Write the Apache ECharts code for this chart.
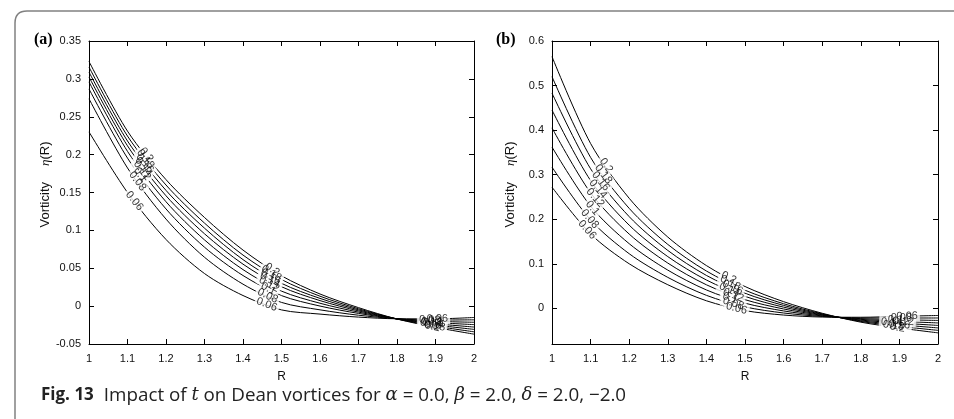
<!DOCTYPE html>
<html><head><meta charset="utf-8">
<script src="https://cdn.jsdelivr.net/npm/echarts@6/dist/echarts.min.js"></script>
<style>html,body{margin:0;padding:0;background:#fff}#c{width:954px;height:419px}</style>
</head><body><div id="c"></div>
<script>
// ---- data ----
const R = [1.0, 1.1, 1.2, 1.3, 1.4, 1.5, 1.6, 1.7, 1.8, 1.9, 2.0];
const tNames = ['0.06', '0.08', '0.1', '0.12', '0.14', '0.16', '0.18', '0.2'];
const yTicksB = [0, 0.1, 0.2, 0.3, 0.4, 0.5, 0.6];

// panel (a)
const a006 = [0.230, 0.150, 0.088, 0.043, 0.014, -0.005, -0.0105, -0.0145, -0.0167, -0.0168, -0.0150];
const a008 = [0.2737, 0.1824, 0.1149, 0.0645, 0.029, 0.0049, -0.0049, -0.0120, -0.0167, -0.0184, -0.0181];
const a010 = [0.2867, 0.1954, 0.1283, 0.0778, 0.0404, 0.0139, 0.0001, -0.0096, -0.0168, -0.0200, -0.0213];
const a012 = [0.296, 0.2043, 0.1378, 0.0874, 0.0482, 0.0198, 0.0038, -0.0079, -0.0168, -0.0216, -0.0244];
const a014 = [0.3025, 0.2116, 0.1457, 0.0955, 0.0554, 0.0256, 0.0073, -0.0063, -0.0169, -0.0232, -0.0276];
const a016 = [0.309, 0.218, 0.1528, 0.1029, 0.0614, 0.0301, 0.0102, -0.0049, -0.0169, -0.0248, -0.0307];
const a018 = [0.3156, 0.2245, 0.1599, 0.1096, 0.0674, 0.0351, 0.0131, -0.0035, -0.0170, -0.0264, -0.0339];
const a020 = [0.323, 0.231, 0.167, 0.117, 0.074, 0.040, 0.016, -0.002, -0.0170, -0.028, -0.037];

// panel (b)
const b006 = [0.272, 0.167, 0.100, 0.053, 0.017, -0.005, -0.015, -0.0195, -0.0200, -0.0180, -0.0160];
const b008 = [0.317, 0.1983, 0.1226, 0.0695, 0.0292, 0.0033, -0.0104, -0.0182, -0.0216, -0.0217, -0.0216];
const b010 = [0.362, 0.2293, 0.1451, 0.0858, 0.0413, 0.0116, -0.0058, -0.0169, -0.0231, -0.0254, -0.0271];
const b012 = [0.405, 0.2592, 0.1667, 0.1016, 0.0529, 0.0195, -0.0014, -0.0156, -0.0247, -0.0291, -0.0327];
const b014 = [0.445, 0.2868, 0.1867, 0.1161, 0.0636, 0.0269, 0.0027, -0.0145, -0.0263, -0.0329, -0.0383];
const b016 = [0.483, 0.3132, 0.2058, 0.1300, 0.0739, 0.0339, 0.0066, -0.0134, -0.0279, -0.0366, -0.0439];
const b018 = [0.520, 0.3387, 0.2244, 0.1435, 0.0838, 0.0407, 0.0104, -0.0123, -0.0294, -0.0403, -0.0494];
const b020 = [0.565, 0.370, 0.247, 0.160, 0.096, 0.049, 0.015, -0.011, -0.031, -0.044, -0.055];

// contour label positions (R) per curve, t = 0.06 ... 0.2
const labA1 = [1.118, 1.126, 1.133, 1.138, 1.142, 1.145, 1.147, 1.149];
const labA2 = [1.462, 1.464, 1.466, 1.468, 1.470, 1.472, 1.474, 1.476];
const labA3 = [1.905, 1.885, 1.900, 1.890, 1.895, 1.888, 1.898, 1.892];
const labB1 = [1.091, 1.098, 1.105, 1.112, 1.119, 1.126, 1.133, 1.140];
const labB2 = [1.478, 1.470, 1.462, 1.470, 1.460, 1.468, 1.462, 1.458];
const labB3 = [1.920, 1.905, 1.890, 1.910, 1.880, 1.900, 1.885, 1.895];

const curvesA = [a006, a008, a010, a012, a014, a016, a018, a020];
const curvesB = [b006, b008, b010, b012, b014, b016, b018, b020];

// ---- helpers ----
function interp(vals, r) {
  for (let i = 0; i < R.length - 1; i++) {
    if (r >= R[i] && r <= R[i + 1]) {
      const f = (r - R[i]) / (R[i + 1] - R[i]);
      return vals[i] + f * (vals[i + 1] - vals[i]);
    }
  }
  return vals[vals.length - 1];
}
const FONT = 'Liberation Sans, Arial, sans-serif';
const axisLine = { show: true, onZero: false, lineStyle: { color: '#000', width: 1 } };
const tick = { show: true, inside: true, length: 5, lineStyle: { color: '#000', width: 1 } };
const lab = { color: '#111', fontSize: 11, fontFamily: FONT };

function xAxes(g) {
  return [
    { gridIndex: g, type: 'value', min: 1, max: 2, interval: 0.1, position: 'bottom',
      axisLine, axisTick: tick, axisLabel: Object.assign({ margin: 9 }, lab), splitLine: { show: false },
      name: 'R', nameLocation: 'middle', nameGap: 27,
      nameTextStyle: { color: '#111', fontSize: 12, fontFamily: FONT } },
    { gridIndex: g, type: 'value', min: 1, max: 2, interval: 0.1, position: 'top',
      axisLine, axisTick: tick, axisLabel: { show: false }, splitLine: { show: false } }
  ];
}
const yName = 'Vorticity{gap|}{i|η}(R)';
const yNameStyle = { color: '#111', fontSize: 13, fontFamily: FONT, padding: [0, 0, 0, 16],
  rich: { i: { fontStyle: 'italic', fontSize: 13, fontFamily: 'Liberation Serif, serif' },
          gap: { width: 16 } } };

const yAxisA = [
  { gridIndex: 0, type: 'value', min: -0.05, max: 0.35, interval: 0.05, position: 'left',
    axisLine, axisTick: tick, axisLabel: Object.assign({ margin: 8 }, lab), splitLine: { show: false },
    name: yName, nameLocation: 'middle', nameGap: 36, nameTextStyle: yNameStyle },
  { gridIndex: 0, type: 'value', min: -0.05, max: 0.35, interval: 0.05, position: 'right',
    axisLine, axisTick: tick, axisLabel: { show: false }, splitLine: { show: false } }
];
const yAxisB = [
  { gridIndex: 1, type: 'value', min: -0.08, max: 0.6, position: 'left',
    axisLine, axisTick: Object.assign({ customValues: yTicksB }, tick),
    axisLabel: Object.assign({ margin: 8, customValues: yTicksB }, lab), splitLine: { show: false },
    name: yName, nameLocation: 'middle', nameGap: 35, nameTextStyle: yNameStyle },
  { gridIndex: 1, type: 'value', min: -0.08, max: 0.6, position: 'right',
    axisLine, axisTick: Object.assign({ customValues: yTicksB }, tick),
    axisLabel: { show: false, customValues: yTicksB }, splitLine: { show: false } }
];

const series = [];
function addLines(curves, xi, yi) {
  curves.forEach((c, k) => {
    series.push({ type: 'line', xAxisIndex: xi, yAxisIndex: yi, data: R.map((r, i) => [r, c[i]]),
      symbol: 'none', smooth: 0.3, lineStyle: { color: '#000', width: 1 }, z: 2, silent: true });
  });
}
addLines(curvesA, 0, 0);
addLines(curvesB, 2, 2);
const lineIdxA = 0, lineIdxB = 8;

// mask=true: white text on white box (cuts the lines); mask=false: black text, no box
function labelSeries(curves, clusters, xi, yi, rot, mask) {
  const data = [];
  clusters.forEach((cl, ci) => {
    curves.forEach((c, k) => {
      const r = cl[k];
      data.push({ value: [r, interp(c, r)],
        label: { formatter: tNames[k], rotate: rot ? rot[ci * curves.length + k] : 0 } });
    });
  });
  return { type: 'scatter', xAxisIndex: xi, yAxisIndex: yi, symbolSize: 0, data, z: mask ? 4 : 5, silent: true,
    label: { show: true, position: 'inside', color: mask ? '#fff' : '#000', fontSize: 11, fontFamily: FONT,
      backgroundColor: mask ? '#fff' : 'transparent', padding: [0, 2] } };
}
const clA = [labA1, labA2, labA3], clB = [labB1, labB2, labB3];
series.push(labelSeries(curvesA, clA, 0, 0, null, true));
series.push(labelSeries(curvesB, clB, 2, 2, null, true));
series.push(labelSeries(curvesA, clA, 0, 0, null, false));
series.push(labelSeries(curvesB, clB, 2, 2, null, false));

const frame = { stroke: '#808080', fill: null, lineWidth: 1.5 };
const capStyle = { fontSize: 18.8, fontFamily: 'Open Sans', fill: '#222' };
const graphic = [
  { type: 'line', shape: { x1: 27, y1: 11, x2: 954, y2: 11 }, style: frame, silent: true },
  { type: 'line', shape: { x1: 15, y1: 23, x2: 15, y2: 419 }, style: frame, silent: true },
  { type: 'bezierCurve', shape: { x1: 27, y1: 11, x2: 15, y2: 23, cpx1: 15, cpy1: 11 }, style: frame, silent: true },
  { type: 'text', left: 34, top: 32, style: { text: '(a)', font: 'bold 16px "Liberation Serif", serif', fill: '#000' } },
  { type: 'text', left: 496, top: 32, style: { text: '(b)', font: 'bold 16px "Liberation Serif", serif', fill: '#000' } },
  { type: 'text', left: 41, top: 386, style: {
      text: '{b|Fig. 13}{s|}{n|Impact of }{i|t}{n| on Dean vortices for }{g|α}{n| = 0.0, }{g|β}{n| = 2.0, }{g|δ}{n| = 2.0, −2.0}',
      fontSize: 18.8, fontFamily: 'Open Sans', fill: '#222',
      rich: {
        b: { fontWeight: 'bold', fontSize: 17, fontFamily: 'Open Sans', fill: '#222' },
        s: { width: 10 },
        n: capStyle,
        i: { fontStyle: 'italic', fontSize: 18, fontFamily: 'DejaVu Serif', fill: '#222' },
        g: { fontStyle: 'italic', fontSize: 18, fontFamily: 'DejaVu Serif', fill: '#222' }
      } } }
];

const option = {
  animation: false,
  backgroundColor: '#fff',
  grid: [
    { left: 89, right: 480, top: 41, bottom: 75 },
    { left: 552, right: 16, top: 41, bottom: 75 }
  ],
  xAxis: [...xAxes(0), ...xAxes(1)],
  yAxis: [...yAxisA, ...yAxisB],
  series, graphic
};

const chart = echarts.init(document.getElementById('c'), null, { renderer: 'canvas' });
chart.setOption(option);

// label rotation along each curve, measured through the library's own scales
function rotations(curves, clusters, sIdx) {
  const out = [];
  clusters.forEach(cl => {
    curves.forEach((c, k) => {
      const r = cl[k], d = 0.015;
      const p1 = chart.convertToPixel({ seriesIndex: sIdx }, [r - d, interp(c, r - d)]);
      const p2 = chart.convertToPixel({ seriesIndex: sIdx }, [r + d, interp(c, r + d)]);
      const ang = Math.atan2(p2[1] - p1[1], p2[0] - p1[0]) * 180 / Math.PI;
      out.push(-ang);
    });
  });
  return out;
}
const rotA = rotations(curvesA, clA, lineIdxA);
const rotB = rotations(curvesB, clB, lineIdxB);
series[16] = labelSeries(curvesA, clA, 0, 0, rotA, true);
series[17] = labelSeries(curvesB, clB, 2, 2, rotB, true);
series[18] = labelSeries(curvesA, clA, 0, 0, rotA, false);
series[19] = labelSeries(curvesB, clB, 2, 2, rotB, false);
chart.setOption({ series });
</script></body></html>
